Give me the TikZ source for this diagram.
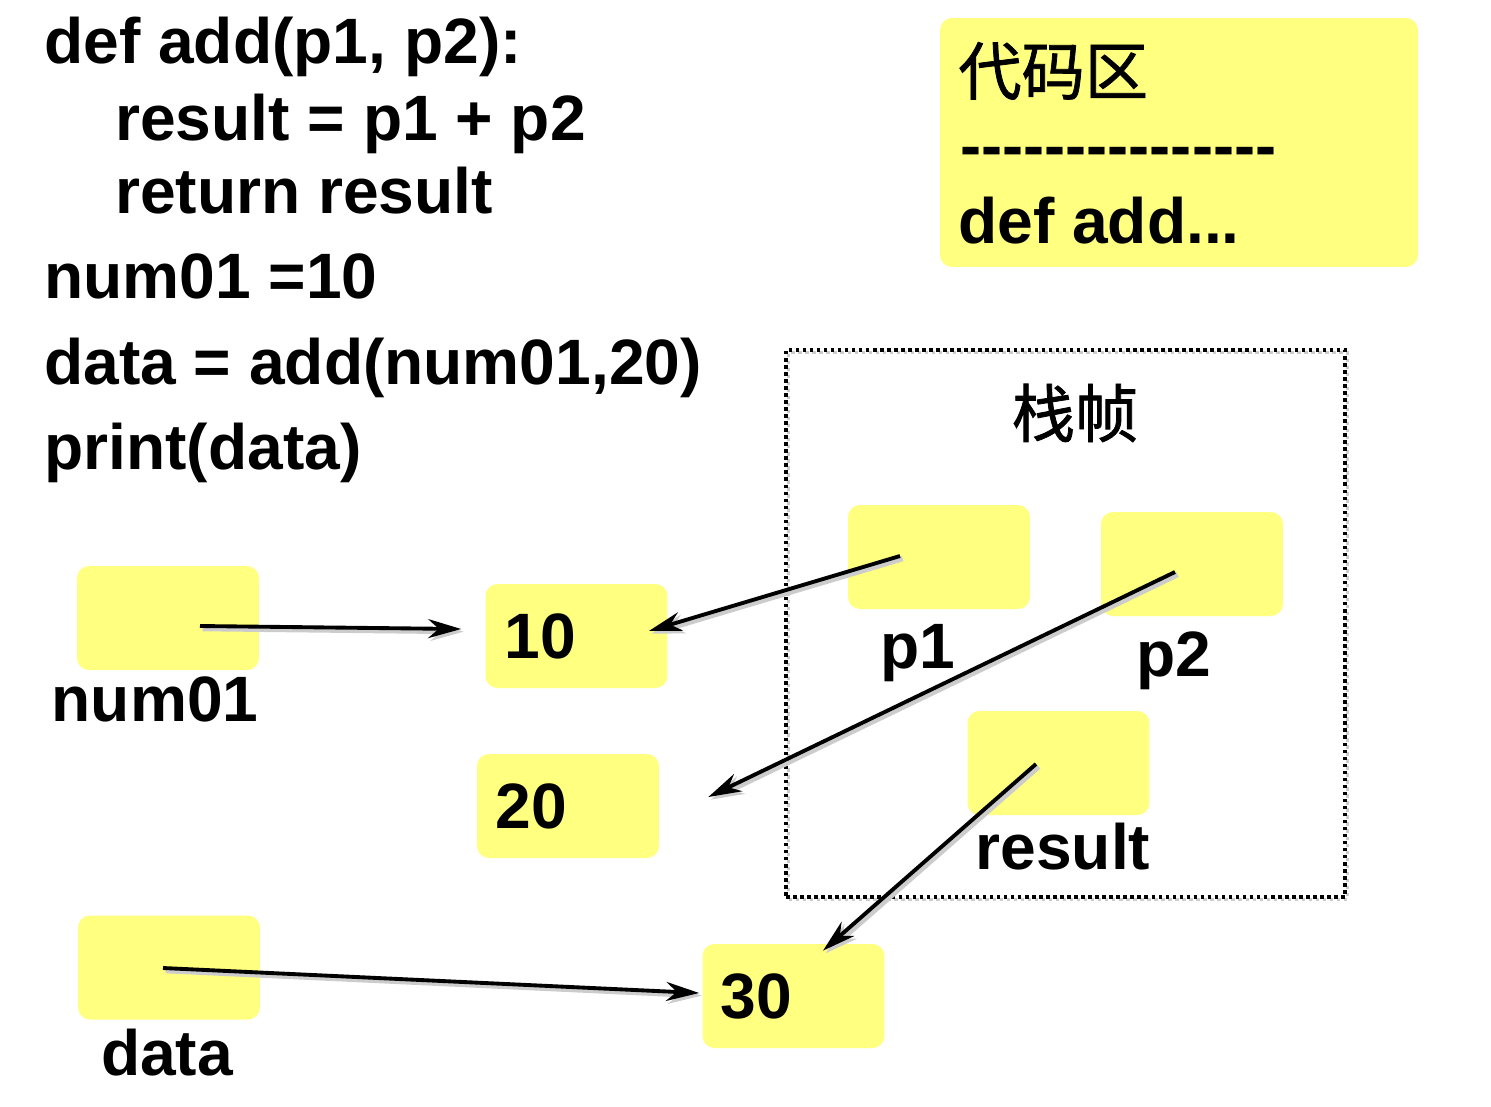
\documentclass[tikz,border=0pt]{standalone}
\usepackage{fontspec}
\setmainfont{Liberation Sans}
\newfontfamily\cjk[FakeBold=1.2]{Noto Sans CJK SC}
\usetikzlibrary{arrows.meta}
\definecolor{memyellow}{HTML}{FFFF80}
\newcommand{\hy}{-\kern0pt}

\begin{document}
\begin{tikzpicture}[
    x=0.02cm, y=-0.02cm,
    cell/.style={
        rectangle,
        fill=memyellow,
        rounded corners=0.24cm,
        minimum width=3.64cm,
        minimum height=2.08cm,
        inner sep=0pt
    },
    txt/.style={
        inner sep=0pt,
        font=\fontsize{36.5}{43}\selectfont\bfseries
    },
    code/.style={txt, anchor=base west},
    lbl/.style={txt, anchor=base},
    frame/.style={
        rectangle,
        draw=black,
        line width=2pt,
        dash pattern=on 2pt off 2pt,
        minimum width=11.18cm,
        minimum height=10.94cm,
        inner sep=0pt,
        preaction={draw=black!20, transform canvas={shift={(1.5pt,-1.5pt)}}}
    },
    ptr/.style={
        -{Stealth[length=0.66cm, width=0.38cm]},
        line width=2.2pt,
        preaction={draw=black!20, line width=3pt, transform canvas={shift={(1.5pt,-1.5pt)}}}
    }
]
\useasboundingbox (0,0) rectangle (1491,1106);

% source code
\node[code] (line1) at (44,63) {def add(p1, p2):};
\node[code] (line2) at (115,140) {result = p1 + p2};
\node[code] (line3) at (115,213) {return result};
\node[code] (line4) at (44,298) {num01 =10};
\node[code] (line5) at (44,384) {data = add(num01,20)};
\node[code] (line6) at (44,469) {print(data)};

% code area
\node[cell, minimum width=9.56cm, minimum height=4.98cm] (codearea) at (1179,142.5) {};
\node[txt, anchor=west, font=\fontsize{36}{43}\selectfont\cjk] (codetitle) at (958,71) {代码区};
\node[code, font=\fontsize{36}{43}\selectfont\bfseries] (codesep) at (960,167) {\hy\hy\hy\hy\hy\hy\hy\hy\hy\hy\hy\hy\hy\hy\hy};
\node[code] (codedef) at (958,243) {def add...};

% stack frame
\node[frame] (stack) at (1065.5,623.5) {};
\node[txt, font=\fontsize{36}{43}\selectfont\cjk] (stacktitle) at (1075,413) {栈帧};
\node[cell] (p1) at (939,557) {};
\node[cell] (p2) at (1192,564) {};
\node[cell] (result) at (1058.5,763) {};
\node[lbl] (p1lbl) at (918,668) {p1};
\node[lbl] (p2lbl) at (1174,676) {p2};
\node[lbl] (resultlbl) at (1063,869) {result};

% variables and values
\node[cell] (num01) at (168,618) {};
\node[lbl] (num01lbl) at (155,721) {num01};
\node[cell] (data) at (169,967.5) {};
\node[lbl] (datalbl) at (167,1075) {data};

\node[cell] (v10) at (576.5,636) {};
\node[code] at (504,658) {10};
\node[cell] (v20) at (568,806) {};
\node[code] at (495,828) {20};
\node[cell] (v30) at (793.5,996) {};
\node[code] at (720,1018) {30};

% references
\draw[ptr] ([shift={(32,8)}]num01.center) -- ([shift={(-24,-7)}]v10.west);
\draw[ptr] ([shift={(-39,-1)}]p1.center) -- ([shift={(-19,-5)}]v10.east);
\draw[ptr] ([shift={(-17,8)}]p2.center) -- ([shift={(49,-9)}]v20.east);
\draw[ptr] ([shift={(-22.5,1)}]result.center) -- ([shift={(29.5,7)}]v30.north);
\draw[ptr] ([shift={(-6,0.5)}]data.center) -- ([shift={(-3,-3)}]v30.west);

\end{tikzpicture}
\end{document}
